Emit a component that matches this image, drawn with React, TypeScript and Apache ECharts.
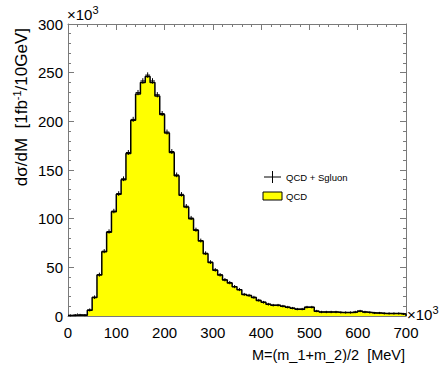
import React, { useEffect, useRef } from "react";
import * as echarts from "echarts";

const BIN_WIDTH = 10;
const X_MIN = 0;
const X_MAX = 700;
const Y_MIN = 0;
const Y_MAX = 300;

// QCD histogram, bin contents (x10^3), bins of 10 (x10^3 MeV) from 0 to 700
const qcdValues = [
  0.5, 0.8, 1, 0.8, 6, 19, 42, 66, 86, 107,
  125, 140, 167, 201, 228, 240, 246, 240, 226, 207,
  188, 168, 144, 124, 112, 100, 88, 77, 64, 55,
  47, 42, 37, 34, 30, 27, 22, 21, 19, 16,
  14, 12, 11, 11, 10, 9, 8, 7, 7, 9,
  9, 5, 4, 4, 4, 4, 3.5, 3.5, 3.5, 4,
  5, 4, 3.5, 3, 3, 2.5, 2.5, 2.5, 2.5, 2,
];

// QCD + Sgluon points with errors
const sigValues = [
  0.6, 0.9, 1.1, 0.9, 6.2, 19.3, 42.5, 66.6, 86.8, 107.8,
  125.8, 141, 168, 202, 229.5, 241.5, 247.5, 241.5, 227.3, 208,
  189, 169, 145, 125, 112.8, 100.7, 88.6, 77.5, 64.5, 55.4,
  47.4, 42.3, 37.3, 34.3, 30.2, 27.2, 22.2, 21.2, 19.2, 16.2,
  14.1, 12.1, 11.1, 11.1, 10.1, 9.1, 8.1, 7.1, 7.1, 9.1,
  9.1, 5.1, 4.1, 4.1, 4.1, 4.1, 3.6, 3.6, 3.6, 4.1,
  5.1, 4.1, 3.6, 3.1, 3.1, 2.6, 2.6, 2.6, 2.6, 2.1,
];

const sigErrors = [
  0.4, 0.5, 0.5, 0.5, 1, 1.2, 1.4, 1.5, 1.6, 1.7,
  1.8, 1.8, 1.9, 2, 2.1, 2.2, 2.2, 2.2, 2.1, 2,
  2, 1.9, 1.8, 1.7, 1.6, 1.5, 1.5, 1.4, 1.3, 1.3,
  1.2, 1.2, 1.1, 1.1, 1, 1, 0.9, 0.9, 0.9, 0.8,
  0.8, 0.8, 0.7, 0.7, 0.7, 0.7, 0.6, 0.6, 0.6, 0.7,
  0.7, 0.6, 0.6, 0.6, 0.6, 0.6, 0.5, 0.5, 0.5, 0.6,
  0.6, 0.6, 0.5, 0.5, 0.5, 0.5, 0.5, 0.5, 0.5, 0.5,
];

const yTitle = "dσ/dM  [1fb{sup|-1}/10GeV]";
const xTitle = "M=(m_1+m_2)/2  [MeV]";
const legendSig = "QCD + Sgluon";
const legendQcd = "QCD";

const FONT = "'Liberation Sans', Arial, Helvetica, sans-serif";
const AXIS_COLOR = "#7a7a7a";

function axisBase(showLabels: boolean) {
  return {
    type: "value" as const,
    axisLine: { show: true, onZero: false, lineStyle: { color: AXIS_COLOR, width: 1 } },
    axisTick: { show: true, inside: true, length: 6, lineStyle: { color: AXIS_COLOR } },
    minorTick: { show: true, splitNumber: 5, length: 3, lineStyle: { color: AXIS_COLOR } },
    splitLine: { show: false },
    minorSplitLine: { show: false },
    axisLabel: {
      show: showLabels,
      fontSize: 15,
      color: "#000",
      fontFamily: FONT,
    },
  };
}

export default function App() {
  const ref = useRef<HTMLDivElement>(null);

  useEffect(() => {
    if (!ref.current) return;
    const chart = echarts.init(ref.current, undefined, { renderer: "svg" });

    const stepData: number[][] = qcdValues.map((v, i) => [X_MIN + i * BIN_WIDTH, v]);
    stepData.push([X_MAX, 0]);

    const errData = sigValues.map((v, i) => [X_MIN + (i + 0.5) * BIN_WIDTH, v, sigErrors[i]]);

    const option: any = {
      animation: false,
      backgroundColor: "#fff",
      grid: { left: 68, right: 33, top: 24, bottom: 50, containLabel: false },
      xAxis: [
        {
          ...axisBase(true),
          position: "bottom",
          min: X_MIN,
          max: X_MAX,
          interval: 100,
          axisLabel: { ...axisBase(true).axisLabel, margin: 9 },
        },
        {
          ...axisBase(false),
          position: "top",
          min: X_MIN,
          max: X_MAX,
          interval: 100,
        },
      ],
      yAxis: [
        {
          ...axisBase(true),
          position: "left",
          min: Y_MIN,
          max: Y_MAX,
          interval: 50,
          axisLabel: { ...axisBase(true).axisLabel, margin: 5 },
        },
        {
          ...axisBase(false),
          position: "right",
          min: Y_MIN,
          max: Y_MAX,
          interval: 50,
        },
      ],
      series: [
        {
          name: "QCD",
          type: "line",
          step: "end",
          xAxisIndex: 0,
          yAxisIndex: 0,
          data: stepData,
          symbol: "none",
          lineStyle: { color: "#000", width: 1.5 },
          areaStyle: { color: "#ffff00", opacity: 1, origin: "start" },
          z: 2,
        },
        {
          name: "QCD + Sgluon",
          type: "custom",
          xAxisIndex: 0,
          yAxisIndex: 0,
          data: errData,
          encode: { x: 0, y: 1 },
          z: 3,
          renderItem: (params: any, api: any) => {
            const x = api.value(0);
            const y = api.value(1);
            const e = api.value(2);
            const half = BIN_WIDTH / 2;
            const pl = api.coord([x - half, y]);
            const pr = api.coord([x + half, y]);
            const pt = api.coord([x, y + e]);
            const pb = api.coord([x, y - e]);
            const style = { stroke: "#000", lineWidth: 1 };
            return {
              type: "group",
              children: [
                { type: "line", shape: { x1: pl[0], y1: pl[1], x2: pr[0], y2: pr[1] }, style },
                { type: "line", shape: { x1: pt[0], y1: pt[1] - 0.6, x2: pb[0], y2: pb[1] + 0.6 }, style },
              ],
            };
          },
        },
      ],
      graphic: [
        {
          type: "text",
          x: 21,
          y: 28,
          rotation: Math.PI / 2,
          style: {
            text: yTitle,
            align: "right",
            verticalAlign: "middle",
            fontSize: 17,
            fontFamily: FONT,
            fill: "#000",
            rich: {
              sup: { fontSize: 11, fontFamily: FONT, fill: "#000", padding: [0, 0, 8, 0] },
            },
          },
        },
        {
          type: "text",
          x: 405,
          y: 355,
          style: {
            text: xTitle,
            align: "right",
            verticalAlign: "middle",
            fontSize: 14.5,
            fontFamily: FONT,
            fill: "#000",
          },
        },
        {
          type: "text",
          x: 67,
          y: 14,
          style: {
            text: "×10{sup|3}",
            align: "left",
            verticalAlign: "middle",
            fontSize: 15,
            fontFamily: FONT,
            fill: "#000",
            rich: { sup: { fontSize: 11, fontFamily: FONT, fill: "#000", padding: [0, 0, 8, 0] } },
          },
        },
        {
          type: "text",
          x: 407,
          y: 314,
          style: {
            text: "×10{sup|3}",
            align: "left",
            verticalAlign: "middle",
            fontSize: 15,
            fontFamily: FONT,
            fill: "#000",
            rich: { sup: { fontSize: 11, fontFamily: FONT, fill: "#000", padding: [0, 0, 8, 0] } },
          },
        },
        // legend
        { type: "line", shape: { x1: 264, y1: 177, x2: 281, y2: 177 }, style: { stroke: "#000", lineWidth: 1 } },
        { type: "line", shape: { x1: 272.5, y1: 171, x2: 272.5, y2: 183 }, style: { stroke: "#000", lineWidth: 1 } },
        {
          type: "text",
          x: 286,
          y: 177,
          style: { text: legendSig, align: "left", verticalAlign: "middle", fontSize: 9.5, fontFamily: FONT, fill: "#000" },
        },
        {
          type: "rect",
          shape: { x: 263, y: 192, width: 19, height: 8 },
          style: { fill: "#ffff00", stroke: "#000", lineWidth: 1 },
        },
        {
          type: "text",
          x: 286,
          y: 196,
          style: { text: legendQcd, align: "left", verticalAlign: "middle", fontSize: 9.5, fontFamily: FONT, fill: "#000" },
        },
      ],
    };

    chart.setOption(option);
    return () => chart.dispose();
  }, []);

  return (
    <div
      ref={ref}
      style={{ position: "fixed", left: 0, top: 0, width: 439, height: 366, background: "#fff" }}
    />
  );
}
